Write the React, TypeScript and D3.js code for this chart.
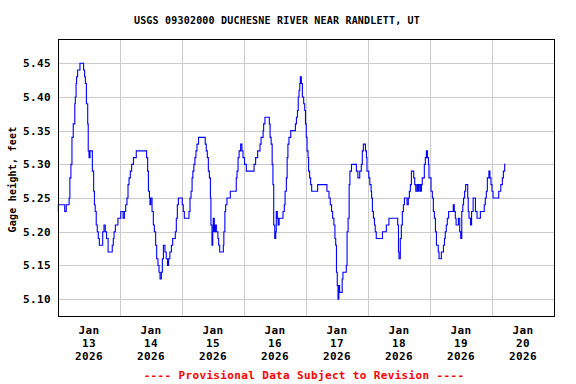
import { useEffect, useRef } from "react";
import * as d3 from "d3";

// hours after Jan 13 2026 00:00 and gage height (ft)
const hours = [
  0, 0.13, 2.6, 3.2, 4.3, 4.6, 5.0, 5.4, 5.9, 6.5, 6.7, 7.0, 7.2, 7.6, 8.5, 9.9, 10.3, 10.6, 11.0, 11.5,
  11.7, 12.0, 12.4, 13.3, 13.8, 14.1, 14.4, 14.8, 15.2, 15.6, 16.0, 17.3, 17.8, 18.3, 18.8, 19.4, 21.0,
  21.4, 21.7, 22.2, 23.2, 24.3, 25.2, 25.7, 26.2, 26.7, 27.1, 27.5, 28.0, 28.5, 29.2, 30.3, 34.3, 34.7,
  35.0, 35.4, 35.6, 35.9, 36.4, 36.9, 37.3, 37.8, 38.2, 38.7, 39.1, 39.5, 40.0, 40.4, 40.8, 41.4, 41.9,
  42.4, 42.8, 43.3, 43.9, 44.4, 45.4, 45.8, 46.2, 46.6, 48.1, 48.5, 48.9, 50.7, 51.1, 51.5, 51.9, 52.2,
  52.6, 53.0, 53.4, 53.8, 54.4, 57.0, 57.4, 57.8, 58.2, 58.6, 59.0, 59.2, 59.6, 59.9, 60.1, 60.5, 60.9,
  61.3, 61.9, 62.2, 62.6, 64.0, 64.2, 64.6, 64.9, 65.4, 66.7, 69.0, 69.3, 69.7, 70.1, 70.7, 71.2, 71.6,
  72.2, 72.9, 75.9, 76.5, 77.3, 78.2, 78.6, 79.4, 79.6, 80.1, 81.8, 82.1, 82.5, 82.9, 83.2, 83.5, 83.9,
  84.3, 84.5, 84.9, 85.2, 85.6, 87.1, 87.6, 87.9, 88.4, 88.7, 89.0, 89.4, 90.1, 91.9, 92.3, 92.7, 93.0,
  93.3, 93.6, 93.8, 94.2, 94.6, 95.1, 95.5, 95.8, 96.1, 96.4, 96.8, 97.0, 97.4, 97.8, 98.2, 100.5, 104.1,
  104.9, 105.4, 105.9, 106.3, 106.8, 107.2, 107.5, 107.8, 108.1, 108.4, 108.7, 109.0, 110.0, 110.3,
  111.6, 111.9, 112.3, 112.7, 113.0, 113.6, 115.5, 116.1, 116.8, 117.4, 117.8, 118.2, 119.0, 119.4,
  119.6, 120.3, 120.7, 121.2, 121.4, 121.7, 122.1, 122.5, 122.8, 123.2, 125.6, 127.1, 128.1, 131.5,
  131.8, 132.0, 132.5, 132.9, 133.3, 133.7, 134.1, 135.1, 135.6, 136.0, 136.4, 136.8, 137.7, 138.1,
  138.5, 139.0, 139.4, 139.8, 140.3, 140.7, 141.0, 141.8, 142.2, 142.6, 143.0, 143.4, 143.6, 144.4,
  144.9, 145.3, 145.7, 146.1, 146.5, 147.2, 147.5, 148.4, 149.2, 149.6, 149.9, 150.3, 150.7, 151.2,
  153.0, 153.4, 153.8, 154.1, 155.0, 155.5, 155.9, 156.3, 156.7, 157.0, 157.4, 157.8, 158.6, 158.8,
  159.1, 159.7, 160.1, 160.7, 161.6, 162.2, 163.5, 165.0, 165.4, 165.8, 166.2, 166.8, 167.2, 167.6,
  168.0, 168.4, 170.6, 171.4, 172.0, 172.4, 172.9, 173.2,
];
const gage = [
  5.23, 5.24, 5.23, 5.24, 5.25, 5.28, 5.30, 5.34, 5.36, 5.39, 5.40, 5.42, 5.43, 5.44, 5.45, 5.44, 5.43, 5.42, 5.39, 5.36,
  5.32, 5.31, 5.32, 5.29, 5.26, 5.24, 5.23, 5.21, 5.20, 5.19, 5.18, 5.20, 5.21, 5.20, 5.19, 5.17, 5.18,
  5.19, 5.20, 5.21, 5.22, 5.23, 5.22, 5.23, 5.24, 5.25, 5.27, 5.28, 5.29, 5.30, 5.31, 5.32, 5.31, 5.29,
  5.26, 5.25, 5.24, 5.25, 5.23, 5.21, 5.20, 5.18, 5.16, 5.15, 5.14, 5.13, 5.14, 5.16, 5.18, 5.17, 5.16,
  5.15, 5.16, 5.17, 5.18, 5.19, 5.20, 5.22, 5.24, 5.25, 5.24, 5.23, 5.22, 5.23, 5.25, 5.26, 5.28, 5.29,
  5.30, 5.31, 5.32, 5.33, 5.34, 5.33, 5.32, 5.31, 5.29, 5.28, 5.25, 5.21, 5.18, 5.20, 5.22, 5.20, 5.21,
  5.20, 5.19, 5.18, 5.17, 5.18, 5.20, 5.23, 5.24, 5.25, 5.26, 5.28, 5.29, 5.31, 5.32, 5.33, 5.32, 5.31,
  5.30, 5.29, 5.30, 5.31, 5.32, 5.33, 5.34, 5.35, 5.36, 5.37, 5.36, 5.34, 5.33, 5.30, 5.27, 5.21, 5.19,
  5.20, 5.23, 5.22, 5.21, 5.22, 5.23, 5.24, 5.26, 5.28, 5.31, 5.33, 5.34, 5.35, 5.36, 5.37, 5.38, 5.40,
  5.41, 5.42, 5.43, 5.42, 5.40, 5.39, 5.38, 5.36, 5.34, 5.32, 5.31, 5.29, 5.28, 5.27, 5.26, 5.27, 5.26,
  5.25, 5.24, 5.23, 5.22, 5.21, 5.19, 5.18, 5.14, 5.12, 5.10, 5.12, 5.11, 5.13, 5.14,
  5.15, 5.20, 5.22, 5.27, 5.29, 5.30, 5.29, 5.28, 5.29, 5.30, 5.32, 5.33, 5.32, 5.31,
  5.29, 5.28, 5.27, 5.26, 5.25, 5.23, 5.22, 5.21, 5.20, 5.19, 5.20, 5.21, 5.22, 5.21,
  5.17, 5.16, 5.19, 5.21, 5.23, 5.24, 5.25, 5.24, 5.25, 5.26, 5.27, 5.29, 5.28, 5.27,
  5.26, 5.27, 5.26, 5.27, 5.26, 5.27, 5.28, 5.30, 5.31, 5.32, 5.31, 5.30, 5.28, 5.26,
  5.25, 5.23, 5.22, 5.20, 5.18, 5.17, 5.16, 5.17, 5.18, 5.19, 5.20, 5.21, 5.22, 5.23,
  5.24, 5.23, 5.22, 5.21, 5.22, 5.20, 5.19, 5.23, 5.24, 5.25, 5.26, 5.27, 5.25, 5.23,
  5.22, 5.21, 5.23, 5.25, 5.23, 5.22, 5.23, 5.24, 5.25, 5.26, 5.28, 5.29, 5.28, 5.27,
  5.26, 5.25, 5.26, 5.27, 5.28, 5.29, 5.30, 5.30,
];

const yTicks = [5.1, 5.15, 5.2, 5.25, 5.3, 5.35, 5.4, 5.45];
const dayNums = [13, 14, 15, 16, 17, 18, 19, 20];
const monthLabel = "Jan";
const yearLabel = "2026";

const title = "USGS 09302000 DUCHESNE RIVER NEAR RANDLETT, UT";
const yTitle = "Gage height, feet";
const footer = "---- Provisional Data Subject to Revision ----";

const W = 576;
const H = 384;
const L = 58, R = 554, T = 39, B = 316;
const mono = "'DejaVu Sans Mono', 'Liberation Mono', monospace";

export default function App() {
  const ref = useRef<SVGSVGElement>(null);

  useEffect(() => {
    const svg = d3.select(ref.current);
    svg.selectAll("*").remove();

    const start = new Date(2026, 0, 13);
    const x = d3.scaleTime().domain([start, new Date(2026, 0, 21)]).range([L, R]);
    const y = d3.scaleLinear().domain([5.075, 5.486]).range([B, T]);
    const px = (v: number) => Math.round(v) + 0.5;

    // grid
    const grid = svg.append("g").attr("stroke", "#cccccc").attr("stroke-width", 1);
    grid.selectAll("line.h").data(yTicks).enter().append("line")
      .attr("x1", L).attr("x2", R)
      .attr("y1", d => px(y(d))).attr("y2", d => px(y(d)));
    const gridDays = dayNums.slice(1).map(d => new Date(2026, 0, d));
    grid.selectAll("line.v").data(gridDays).enter().append("line")
      .attr("y1", T).attr("y2", B)
      .attr("x1", d => px(x(d))).attr("x2", d => px(x(d)));

    // series
    const pts = hours.map((h, i) => [new Date(start.getTime() + h * 3600e3), gage[i]] as [Date, number]);
    const line = d3.line<[Date, number]>()
      .x(d => x(d[0]))
      .y(d => y(d[1]))
      .curve(d3.curveStepAfter);
    svg.append("path").datum(pts)
      .attr("d", line)
      .attr("fill", "none")
      .attr("stroke", "#0000ff")
      .attr("stroke-width", 1.1);

    // frame
    svg.append("rect")
      .attr("x", L + 0.5).attr("y", T + 0.5)
      .attr("width", R - L).attr("height", B - T)
      .attr("fill", "none").attr("stroke", "#000").attr("stroke-width", 1);

    // y tick labels
    svg.append("g").selectAll("text").data(yTicks).enter().append("text")
      .attr("x", 51).attr("y", d => y(d) + 4)
      .attr("text-anchor", "end")
      .attr("font-family", mono).attr("font-weight", "bold")
      .attr("font-size", 11).attr("letter-spacing", 0.4)
      .text(d => d.toFixed(2));

    // x tick labels (at noon of each day)
    const xl = svg.append("g").selectAll("text").data(dayNums).enter().append("text")
      .attr("text-anchor", "middle")
      .attr("font-family", mono).attr("font-weight", "bold")
      .attr("font-size", 11).attr("letter-spacing", 0.4)
      .attr("fill", "#000");
    const cx = (d: number) => x(new Date(2026, 0, d, 12));
    xl.append("tspan").attr("x", cx).attr("y", 334).text(monthLabel);
    xl.append("tspan").attr("x", cx).attr("y", 347).text(d => String(d));
    xl.append("tspan").attr("x", cx).attr("y", 360).text(yearLabel);

    // titles
    svg.append("text")
      .attr("x", 277).attr("y", 24)
      .attr("text-anchor", "middle")
      .attr("font-family", mono).attr("font-weight", "bold")
      .attr("font-size", 10).attr("letter-spacing", 0.2)
      .text(title);
    svg.append("text")
      .attr("transform", `translate(16,${(T + B) / 2 + 2}) rotate(-90)`)
      .attr("text-anchor", "middle")
      .attr("font-family", mono).attr("font-weight", "bold")
      .attr("font-size", 10).attr("letter-spacing", 0.2)
      .text(yTitle);
    svg.append("text")
      .attr("x", 304).attr("y", 379)
      .attr("text-anchor", "middle")
      .attr("font-family", mono).attr("font-weight", "bold")
      .attr("font-size", 11).attr("letter-spacing", 0.35)
      .attr("fill", "#ff0000")
      .text(footer);
  }, []);

  return (
    <>
      <style>{`body{margin:0}`}</style>
      <svg ref={ref} width={W} height={H} style={{ display: "block", background: "#fff" }} />
    </>
  );
}
